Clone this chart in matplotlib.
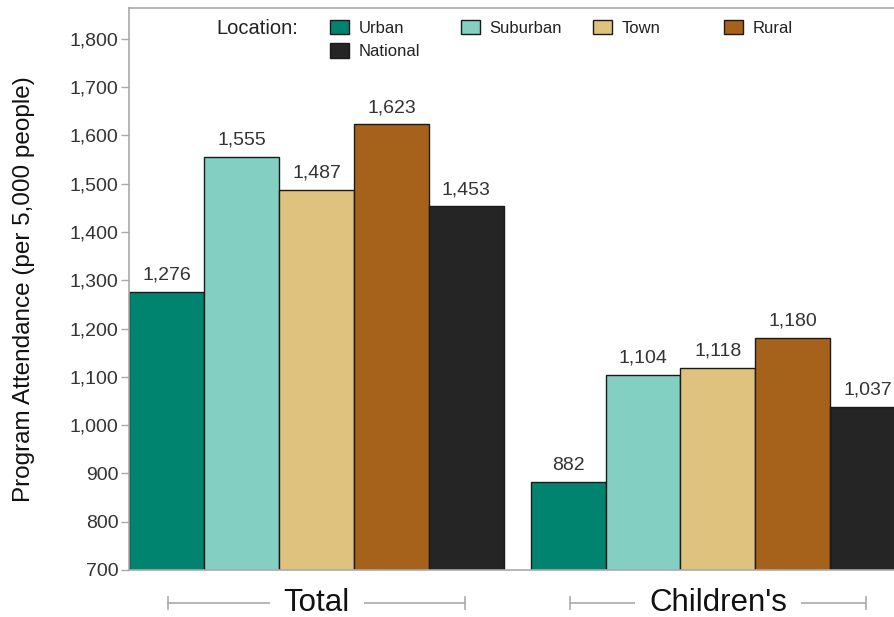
import matplotlib
matplotlib.use("Agg")
import matplotlib.pyplot as plt
from matplotlib.patches import Patch
from matplotlib.legend import Legend
from matplotlib.transforms import blended_transform_factory

plt.rcParams['font.family'] = ['Liberation Sans', 'DejaVu Sans']

groups = ["Total", "Children's"]
locations = ["Urban", "Suburban", "Town", "Rural", "National"]
colors = ["#01846F", "#83D0C2", "#DFC27E", "#A6611A", "#252525"]
values = {
    "Urban":    [1276, 882],
    "Suburban": [1555, 1104],
    "Town":     [1487, 1118],
    "Rural":    [1623, 1180],
    "National": [1453, 1037],
}
yticks = [700, 800, 900, 1000, 1100, 1200, 1300, 1400, 1500, 1600, 1700, 1800]
legend_columns = [["Urban", "National"], ["Suburban"], ["Town"], ["Rural"]]

W, H = 895, 617
fig = plt.figure(figsize=(W / 100, H / 100), dpi=100)
L = 129.5 / W
R = 905 / W
B = 1 - 570 / H
T = 1 - 8 / H
ax = fig.add_axes([L, B, R - L, T - B])

bar_w = 1.0
group_gap = 0.36
n = len(locations)
group_starts = [g * (n * bar_w + group_gap) for g in range(len(groups))]

handles = {}
for i, loc in enumerate(locations):
    xs = [gs + i * bar_w + bar_w / 2 for gs in group_starts]
    ax.bar(xs, values[loc], width=bar_w, color=colors[i],
           edgecolor="#1a1a1a", linewidth=1.0, label=loc, zorder=2)
    for x, v in zip(xs, values[loc]):
        ax.annotate(f"{v:,}", (x, v), xytext=(0, 6), textcoords="offset points",
                    ha="center", va="bottom", fontsize=14, color="#333333")
    handles[loc] = Patch(facecolor=colors[i], edgecolor="#1a1a1a", linewidth=1.0)

ax.set_ylim(700, 1864)
ax.set_xlim(0, group_starts[-1] + n * bar_w)
ax.set_yticks(yticks)
ax.set_yticklabels([f"{t:,}" for t in yticks], fontsize=14, color="#333333")
ax.set_xticks([])
ax.tick_params(axis="y", length=6, color="#aaaaaa", width=1, pad=2)
for s in ["left", "top", "bottom"]:
    ax.spines[s].set_color("#aaaaaa")
    ax.spines[s].set_linewidth(1.2)
ax.spines["right"].set_visible(False)

ax.set_ylabel("Program Attendance (per 5,000 people)", fontsize=17.5, color="#111111")
ax.yaxis.set_label_coords((35 - 129.5) / (905 - 129.5), 0.5)

# group brackets
trans = blended_transform_factory(ax.transData, ax.transAxes)
yb = -(603 - 570) / 562
for gs, name in zip(group_starts, groups):
    c = gs + n * bar_w / 2
    x0, x1 = c - 1.98, c + 1.98
    ax.plot([x0, x1], [yb, yb], transform=trans, color="#aaaaaa", lw=1.2, clip_on=False)
    for xe in (x0, x1):
        ax.plot([xe, xe], [yb - 0.011, yb + 0.011], transform=trans, color="#aaaaaa",
                lw=1.2, clip_on=False)
    ax.text(c, yb, name, transform=trans, ha="center", va="center", fontsize=22.5,
            color="#111111", bbox=dict(facecolor="white", edgecolor="none", pad=10))

# legend: one column per Legend object
col_x = [330, 461, 593, 724]
for cx, names in zip(col_x, legend_columns):
    lg = Legend(fig, [handles[k] for k in names], names, frameon=False,
                loc="upper left", bbox_to_anchor=(cx / W, 1 - 20 / H),
                bbox_transform=fig.transFigure, fontsize=12,
                handlelength=1.15, handleheight=0.95, handletextpad=0.55,
                labelspacing=0.45, borderpad=0, borderaxespad=0)
    for t in lg.get_texts():
        t.set_color("#222222")
    fig.add_artist(lg)
fig.text(298 / W, 1 - 29 / H, "Location:", ha="right", va="center",
         fontsize=14.5, color="#222222")

fig.savefig("out.png", dpi=100)
